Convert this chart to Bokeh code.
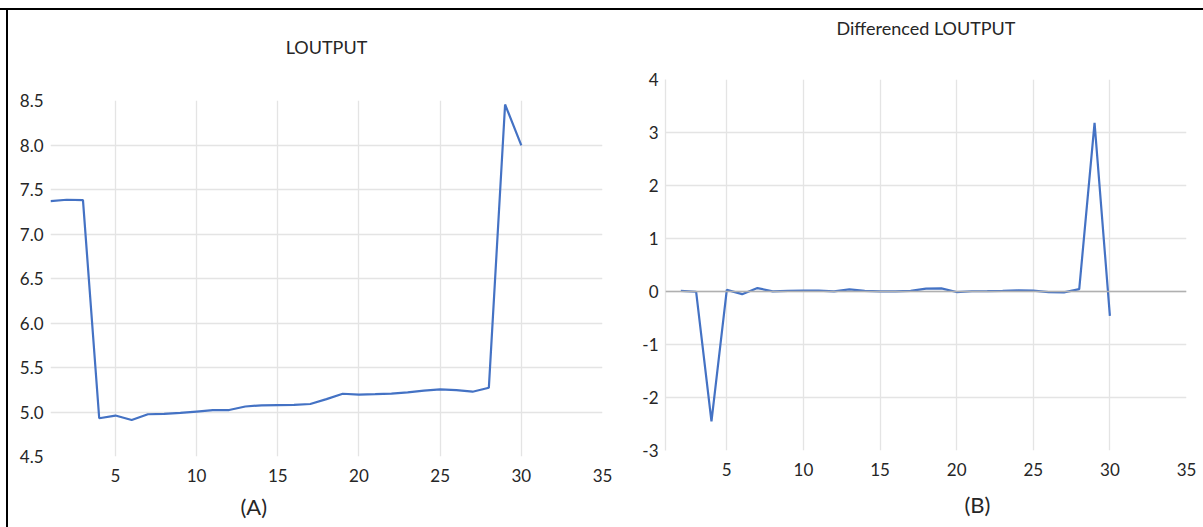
from bokeh.plotting import figure
from bokeh.layouts import row, column
from bokeh.models import (FixedTicker, PrintfTickFormatter, Range1d, Span,
                          Title, LinearAxis, Div, Spacer)
from bokeh.embed import file_html
from bokeh.resources import INLINE

# Log output level by period
periods = list(range(1, 31))
loutput = [7.37, 7.385, 7.38, 4.93, 4.96, 4.91, 4.975, 4.978, 4.99, 5.005,
           5.02, 5.022, 5.062, 5.075, 5.078, 5.079, 5.09, 5.145, 5.205, 5.195,
           5.2, 5.207, 5.22, 5.24, 5.255, 5.245, 5.228, 5.272, 8.455, 7.995]

# First difference of the log output
diff_periods = list(range(2, 31))
diff_loutput = [0.01, -0.005, -2.45, 0.03, -0.05, 0.065, 0.003, 0.012, 0.015,
                0.015, 0.002, 0.04, 0.013, 0.003, 0.001, 0.011, 0.055, 0.06,
                -0.01, 0.005, 0.007, 0.013, 0.02, 0.015, -0.01, -0.017, 0.044,
                3.18, -0.46]

x_ticks = [5, 10, 15, 20, 25, 30, 35]
level_ticks = [4.5, 5.0, 5.5, 6.0, 6.5, 7.0, 7.5, 8.0, 8.5]
diff_ticks = [-3, -2, -1, 0, 1, 2, 3, 4]

FONT = "Lato"
BLUE = "#4472c4"
GRID = "#e4e4e4"
TEXT = "#262626"


def gap(p, side, size):
    # blank axis (white tick, empty label) that only reserves space in a
    # side panel, pushing the next title further from the frame
    p.add_layout(LinearAxis(ticker=FixedTicker(ticks=[2]),
                            major_label_overrides={2: ""},
                            major_label_text_font_size="1px",
                            major_label_standoff=0,
                            axis_line_color=None,
                            major_tick_line_color="white",
                            minor_tick_line_color=None,
                            major_tick_out=size, major_tick_in=0,
                            minor_tick_out=0, minor_tick_in=0), side)


def style(p, yticks, formatter, title_gap, tag, tag_offset, tag_gap):
    p.outline_line_color = None
    p.background_fill_color = "white"
    p.border_fill_color = "white"

    p.xaxis.ticker = FixedTicker(ticks=x_ticks)
    p.yaxis.ticker = FixedTicker(ticks=yticks)
    p.yaxis.formatter = formatter
    for ax in (p.xaxis, p.yaxis):
        ax.axis_line_color = None
        ax.major_tick_line_color = None
        ax.minor_tick_line_color = None
        ax.major_tick_out = 0
        ax.minor_tick_out = 0
        ax.major_label_text_font = FONT
        ax.major_label_text_font_size = "17px"
        ax.major_label_text_color = TEXT
    p.xaxis.major_label_standoff = 12
    p.yaxis.major_label_standoff = 7

    p.xgrid.ticker = FixedTicker(ticks=x_ticks[:-1])
    p.xgrid.grid_line_color = GRID
    p.ygrid.grid_line_color = GRID
    p.xgrid.grid_line_width = 1.3
    p.ygrid.grid_line_width = 1.3

    p.title.text_font = FONT
    p.title.text_font_size = "18px"
    p.title.text_font_style = "normal"
    p.title.text_color = TEXT
    p.title.align = "center"
    p.title.standoff = 0
    gap(p, "above", title_gap)

    gap(p, "below", tag_gap)
    p.add_layout(Title(text=tag, align="left", offset=tag_offset, standoff=0,
                       text_font=FONT, text_font_size="22px",
                       text_font_style="normal", text_color=TEXT), "below")


# Panel A: levels
pa = figure(width=612, height=517, title="LOUTPUT",
            x_range=Range1d(1, 35), y_range=Range1d(4.5, 8.5),
            min_border_left=42, min_border_right=18,
            min_border_top=90, min_border_bottom=71,
            output_backend="svg", toolbar_location=None)
style(pa, level_ticks, PrintfTickFormatter(format="%.1f"), 43, "(A)", 190, 6)
pa.ygrid.ticker = FixedTicker(ticks=level_ticks[1:-1])
pa.line(periods, loutput, line_color=BLUE, line_width=2.2)

# Panel B: differenced series
pb = figure(width=583, height=517, title="Differenced LOUTPUT",
            x_range=Range1d(1, 35), y_range=Range1d(-3, 4),
            min_border_left=45, min_border_right=17,
            min_border_top=69, min_border_bottom=77,
            output_backend="svg", toolbar_location=None)
style(pb, diff_ticks, PrintfTickFormatter(format="%d"), 41, "(B)", 299, 10)
pb.ygrid.ticker = FixedTicker(ticks=diff_ticks)
pb.yaxis.axis_line_color = GRID
pb.yaxis.axis_line_width = 1.3
pb.add_layout(Span(location=0, dimension="width", line_color="#b0b0b0",
                   line_width=1.5))
pb.line(diff_periods, diff_loutput, line_color=BLUE, line_width=2.2)

# Black frame lines along the top and left edges
top_rule = Div(width=1203, height=2, margin=(0, 0, 0, 0),
               styles={"background-color": "black"})
left_rule = Div(width=2, height=517, margin=(0, 0, 0, 0),
                styles={"background-color": "black"})

layout = column(Spacer(width=1203, height=8, margin=(0, 0, 0, 0)), top_rule,
                row(Spacer(width=6, height=517, margin=(0, 0, 0, 0)),
                    left_rule, column(pa), column(pb)))

open("out.html", "w").write(file_html(layout, INLINE))
